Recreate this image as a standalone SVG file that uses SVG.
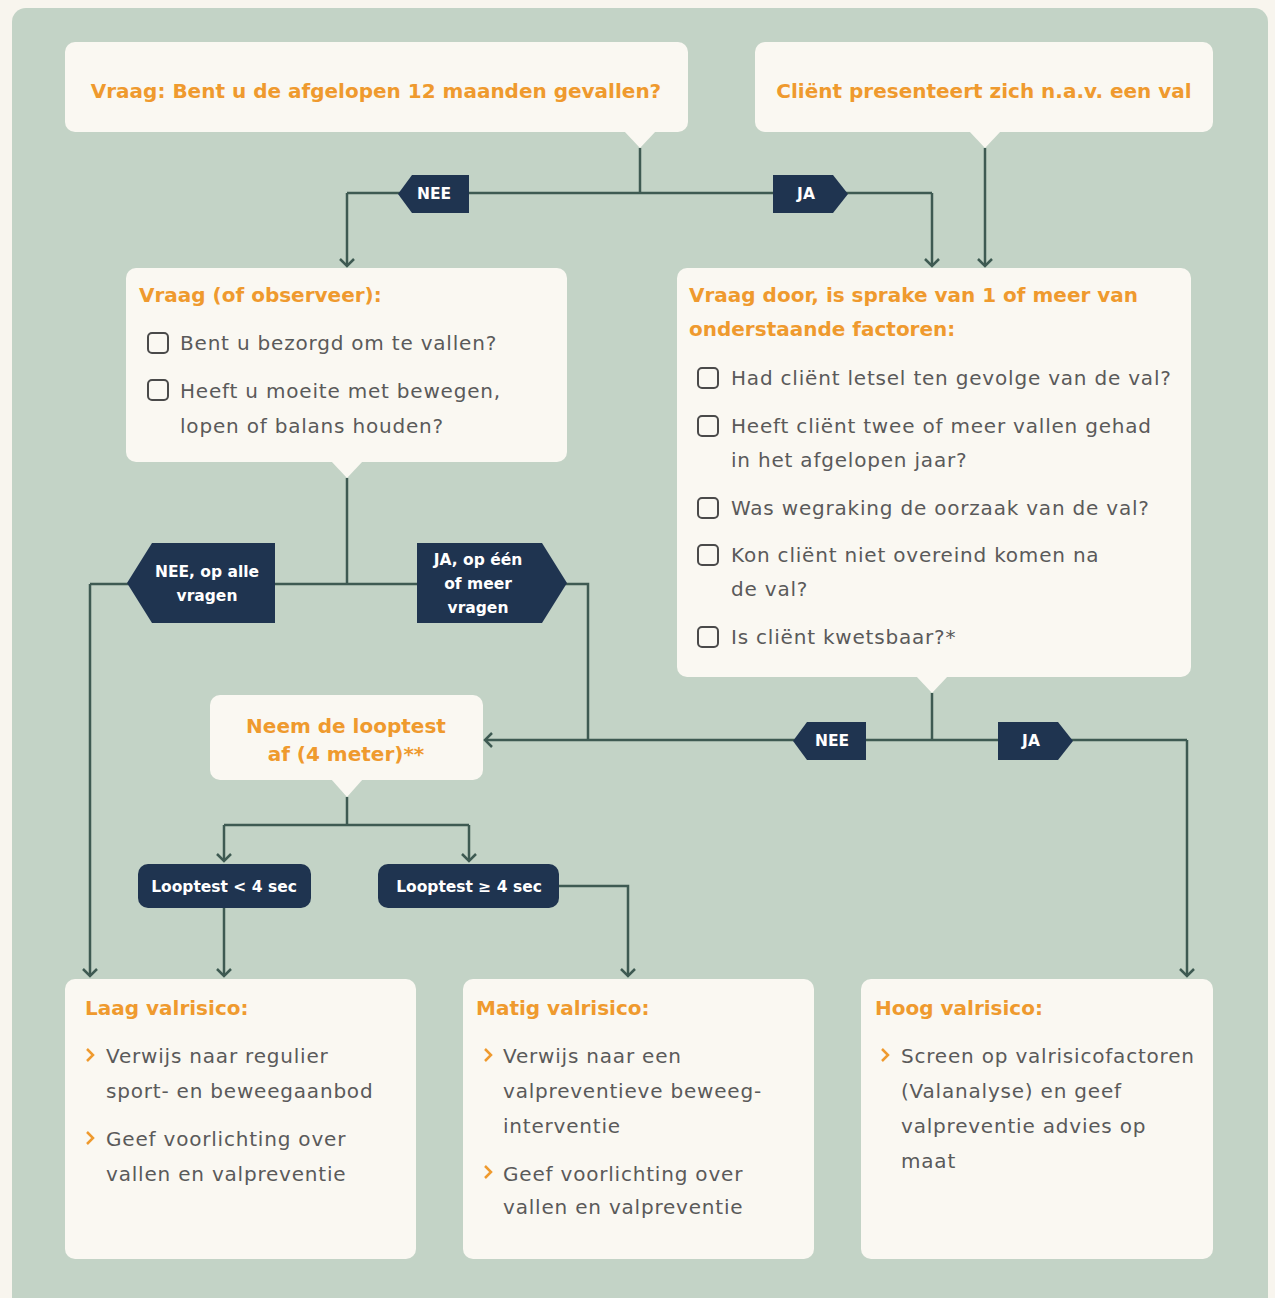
<svg xmlns="http://www.w3.org/2000/svg" width="1275" height="1298" viewBox="0 0 1275 1298">
<defs>
<style>
.box{fill:#faf8f2}
.tag{fill:#1f3450}
.ttl{font-family:"DejaVu Sans",sans-serif;font-weight:700;font-size:20px;fill:#ef9a2e}
.txt{font-family:"DejaVu Sans",sans-serif;font-size:20px;letter-spacing:0.8px;fill:#5a5a5a}
.lbl{font-family:"DejaVu Sans",sans-serif;font-weight:700;font-size:15.5px;fill:#ffffff;text-anchor:middle}
.ln{fill:none;stroke:#3e5a52;stroke-width:2.5}
.cb{fill:none;stroke:#4a4a4a;stroke-width:2}
.bul{fill:none;stroke:#ef9a2e;stroke-width:2.5}
</style>
<marker id="ah" markerWidth="16" markerHeight="16" refX="8" refY="8" orient="auto" markerUnits="userSpaceOnUse">
<path d="M1,1 L8,8 L1,15" fill="none" stroke="#3e5a52" stroke-width="2.5"/>
</marker>
</defs>
<rect x="0" y="0" width="1275" height="1298" fill="#f8f5ee"/>
<rect x="12" y="8" width="1256" height="1310" rx="14" fill="#c3d3c6"/>

<g id="connectors">
<path class="ln" d="M640,148 V193"/>
<path class="ln" d="M347,193 H932"/>
<path class="ln" d="M347,193 V266" marker-end="url(#ah)"/>
<path class="ln" d="M932,193 V266" marker-end="url(#ah)"/>
<path class="ln" d="M985,148 V266" marker-end="url(#ah)"/>
<path class="ln" d="M347,478 V584"/>
<path class="ln" d="M90,584 H588 V740"/>
<path class="ln" d="M90,584 V976" marker-end="url(#ah)"/>
<path class="ln" d="M932,693 V740"/>
<path class="ln" d="M1187,740 H485" marker-end="url(#ah)"/>
<path class="ln" d="M1187,740 V976" marker-end="url(#ah)"/>
<path class="ln" d="M347,797 V825"/>
<path class="ln" d="M224,825 H469"/>
<path class="ln" d="M224,825 V861" marker-end="url(#ah)"/>
<path class="ln" d="M469,825 V861" marker-end="url(#ah)"/>
<path class="ln" d="M224,908 V976" marker-end="url(#ah)"/>
<path class="ln" d="M559,886 H628 V976" marker-end="url(#ah)"/>
</g>

<g id="tag-nee1"><polygon class="tag" points="398,194 412,175 469,175 469,213 412,213"/><text class="lbl" x="434" y="199">NEE</text></g>
<g id="tag-ja1"><polygon class="tag" points="773,175 833,175 848,194 833,213 773,213"/><text class="lbl" x="806" y="199">JA</text></g>
<g id="tag-nee2"><polygon class="tag" points="127,583 152,543 275,543 275,623 152,623"/><text class="lbl" x="207" y="577">NEE, op alle</text><text class="lbl" x="207" y="601">vragen</text></g>
<g id="tag-ja2"><polygon class="tag" points="417,543 542,543 567,583 542,623 417,623"/><text class="lbl" x="478" y="565">JA, op één</text><text class="lbl" x="478" y="589">of meer</text><text class="lbl" x="478" y="613">vragen</text></g>
<g id="tag-nee3"><polygon class="tag" points="793,741 807,722 866,722 866,760 807,760"/><text class="lbl" x="832" y="746">NEE</text></g>
<g id="tag-ja3"><polygon class="tag" points="998,722 1058,722 1073,741 1058,760 998,760"/><text class="lbl" x="1031" y="746">JA</text></g>

<g id="q1">
<rect class="box" x="65" y="42" width="623" height="90" rx="10"/>
<polygon class="box" points="624,131 656,131 640,148"/>
<text class="ttl" x="376" y="98" text-anchor="middle">Vraag: Bent u de afgelopen 12 maanden gevallen?</text>
</g>
<g id="q2">
<rect class="box" x="755" y="42" width="458" height="90" rx="10"/>
<polygon class="box" points="969,131 1001,131 985,148"/>
<text class="ttl" x="984" y="98" text-anchor="middle">Cliënt presenteert zich n.a.v. een val</text>
</g>
<g id="q3">
<rect class="box" x="126" y="268" width="441" height="194" rx="10"/>
<polygon class="box" points="331,461 363,461 347,478"/>
<text class="ttl" x="139" y="302">Vraag (of observeer):</text>
<rect class="cb" x="148" y="333" width="20" height="20" rx="4"/>
<text class="txt" x="180" y="350">Bent u bezorgd om te vallen?</text>
<rect class="cb" x="148" y="380" width="20" height="20" rx="4"/>
<text class="txt" x="180" y="398">Heeft u moeite met bewegen,</text>
<text class="txt" x="180" y="433">lopen of balans houden?</text>
</g>
<g id="q4">
<rect class="box" x="677" y="268" width="514" height="409" rx="10"/>
<polygon class="box" points="916,676 948,676 932,693"/>
<text class="ttl" x="689" y="302">Vraag door, is sprake van 1 of meer van</text>
<text class="ttl" x="689" y="336">onderstaande factoren:</text>
<rect class="cb" x="698" y="368" width="20" height="20" rx="4"/>
<text class="txt" x="731" y="385">Had cliënt letsel ten gevolge van de val?</text>
<rect class="cb" x="698" y="416" width="20" height="20" rx="4"/>
<text class="txt" x="731" y="433">Heeft cliënt twee of meer vallen gehad</text>
<text class="txt" x="731" y="467">in het afgelopen jaar?</text>
<rect class="cb" x="698" y="498" width="20" height="20" rx="4"/>
<text class="txt" x="731" y="515">Was wegraking de oorzaak van de val?</text>
<rect class="cb" x="698" y="545" width="20" height="20" rx="4"/>
<text class="txt" x="731" y="562">Kon cliënt niet overeind komen na</text>
<text class="txt" x="731" y="596">de val?</text>
<rect class="cb" x="698" y="627" width="20" height="20" rx="4"/>
<text class="txt" x="731" y="644">Is cliënt kwetsbaar?*</text>
</g>
<g id="looptest">
<rect class="box" x="210" y="695" width="273" height="85" rx="10"/>
<polygon class="box" points="331,779 363,779 347,797"/>
<text class="ttl" x="346" y="733" text-anchor="middle">Neem de looptest</text>
<text class="ttl" x="346" y="761" text-anchor="middle">af (4 meter)**</text>
</g>
<g id="lt-low"><rect class="tag" x="138" y="864" width="173" height="44" rx="10"/><text class="lbl" x="224" y="892">Looptest &lt; 4 sec</text></g>
<g id="lt-high"><rect class="tag" x="378" y="864" width="181" height="44" rx="10"/><text class="lbl" x="469" y="892">Looptest ≥ 4 sec</text></g>

<g id="laag">
<rect class="box" x="65" y="979" width="351" height="280" rx="10"/>
<text class="ttl" x="85" y="1015">Laag valrisico:</text>
<path class="bul" d="M87,1049 L93,1055 L87,1061"/>
<text class="txt" x="106" y="1063">Verwijs naar regulier</text>
<text class="txt" x="106" y="1098">sport- en beweegaanbod</text>
<path class="bul" d="M87,1132 L93,1138 L87,1144"/>
<text class="txt" x="106" y="1146">Geef voorlichting over</text>
<text class="txt" x="106" y="1181">vallen en valpreventie</text>
</g>
<g id="matig">
<rect class="box" x="463" y="979" width="351" height="280" rx="10"/>
<text class="ttl" x="476" y="1015">Matig valrisico:</text>
<path class="bul" d="M485,1049 L491,1055 L485,1061"/>
<text class="txt" x="503" y="1063">Verwijs naar een</text>
<text class="txt" x="503" y="1098">valpreventieve beweeg-</text>
<text class="txt" x="503" y="1133">interventie</text>
<path class="bul" d="M485,1166 L491,1172 L485,1178"/>
<text class="txt" x="503" y="1181">Geef voorlichting over</text>
<text class="txt" x="503" y="1214">vallen en valpreventie</text>
</g>
<g id="hoog">
<rect class="box" x="861" y="979" width="352" height="280" rx="10"/>
<text class="ttl" x="875" y="1015">Hoog valrisico:</text>
<path class="bul" d="M882,1049 L888,1055 L882,1061"/>
<text class="txt" x="901" y="1063">Screen op valrisicofactoren</text>
<text class="txt" x="901" y="1098">(Valanalyse) en geef</text>
<text class="txt" x="901" y="1133">valpreventie advies op</text>
<text class="txt" x="901" y="1168">maat</text>
</g>
</svg>
